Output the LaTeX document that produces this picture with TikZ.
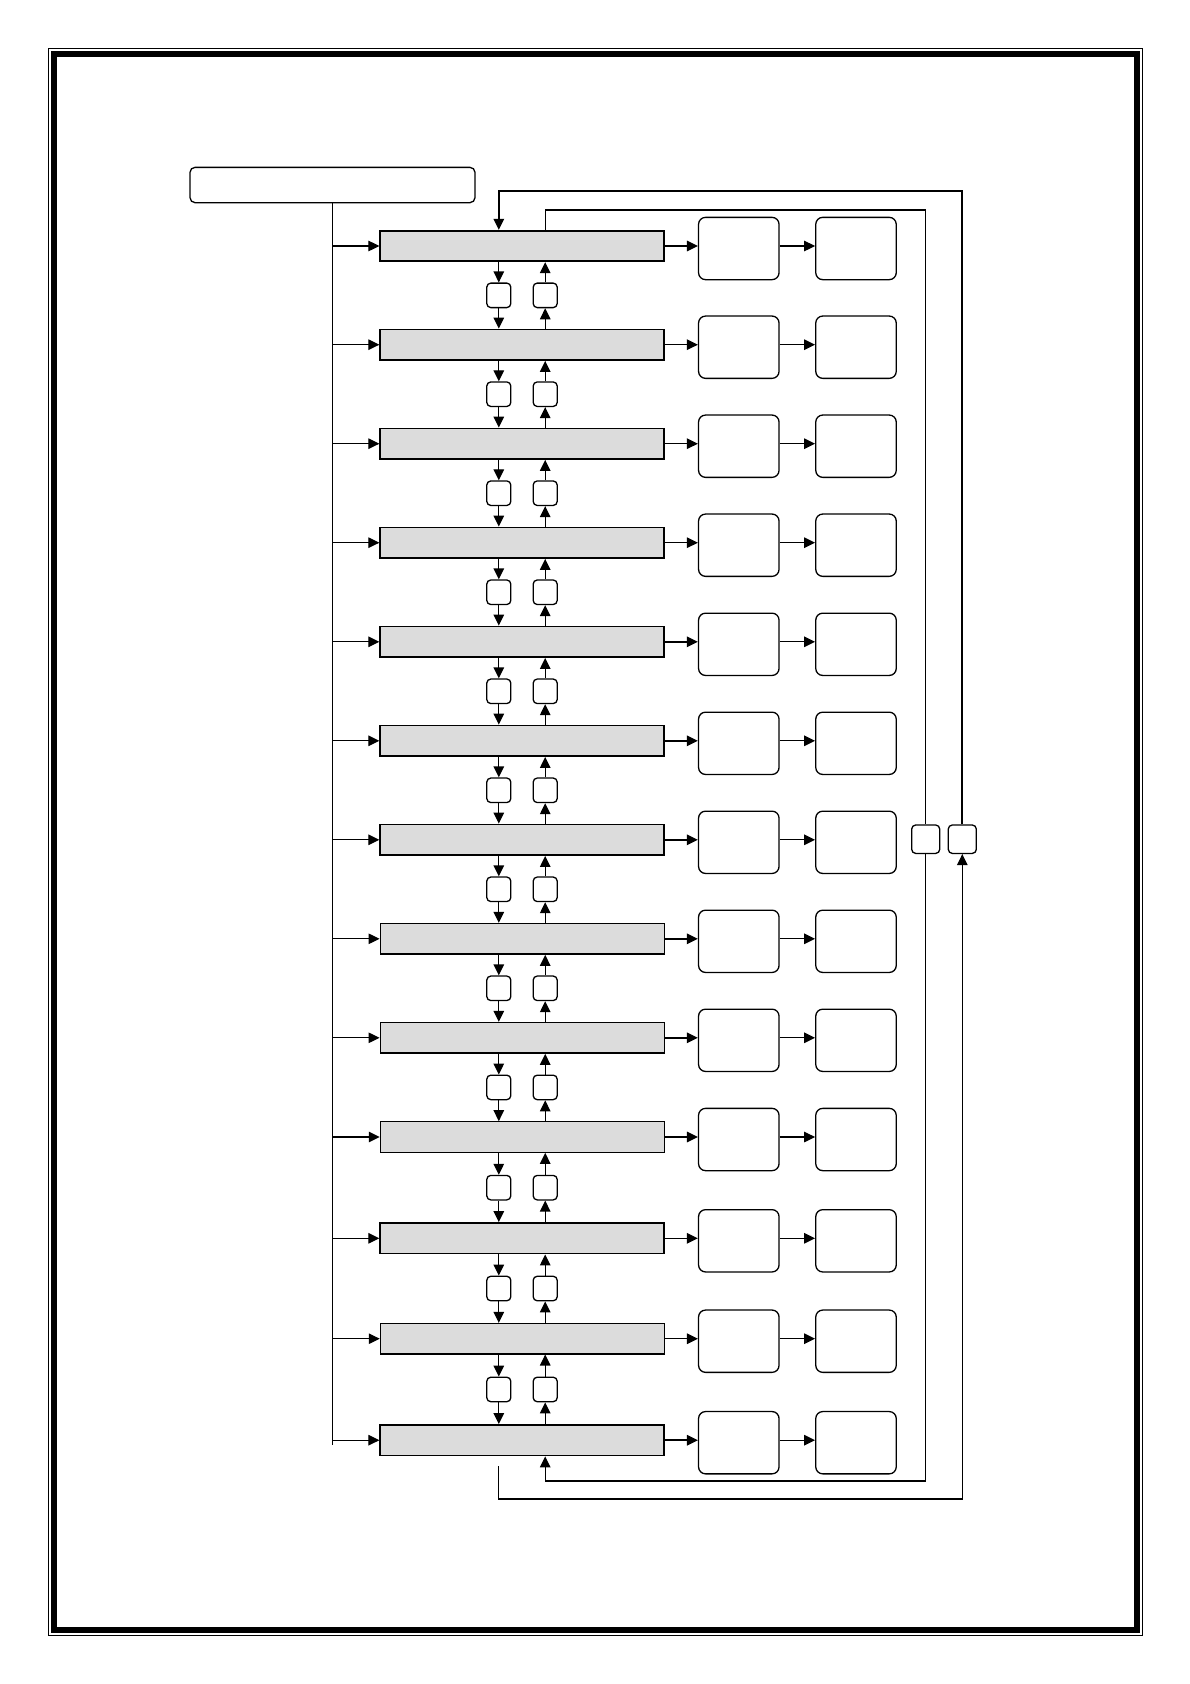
\documentclass[tikz,border=0pt]{standalone}
\usetikzlibrary{arrows.meta,calc}
\definecolor{boxgray}{RGB}{220,220,220}
\begin{document}
\begin{tikzpicture}[x=1pt,y=-1pt,
  arr/.style={-{Triangle[length=11pt,width=10.5pt]}, line width=1.3pt},
  mainbox/.style={draw, fill=boxgray, line width=1.8pt, minimum width=284pt, minimum height=30.5pt, inner sep=0pt},
  conbox/.style={draw, fill=white, rounded corners=4pt, line width=1.3pt, minimum width=24pt, minimum height=24.5pt, inner sep=0pt},
  outbox/.style={draw, rounded corners=7pt, line width=1.3pt, minimum width=80.5pt, minimum height=62.3pt, inner sep=0pt},
  topbox/.style={draw, rounded corners=5pt, line width=1.3pt, minimum width=285pt, minimum height=35.3pt, inner sep=0pt},
  loopbox/.style={conbox, minimum width=28pt, minimum height=28.4pt}
  ]
\useasboundingbox (0,0) rectangle (1190,1684);
% page frame
\draw[line width=1pt] (48.3,48.3) rectangle (1142.5,1635.5);
\draw[line width=6pt] (53.7,53.7) rectangle (1137.2,1630);

% top box and trunk
\node[topbox] (t) at (332.5,185) {};
\coordinate (trunk) at (332.5,1445);
\draw[line width=1.1pt] (t.south) -- (trunk);

% rows
\foreach \i/\y/\w in {1/246/1.8, 2/344.7/1.8, 3/443.7/1.8, 4/542.7/1.8, 5/641.8/1.8,
  6/740.8/1.8, 7/839.8/1.8, 8/938.8/1.5, 9/1037.8/1.5, 10/1137/1.1, 11/1238.3/1.8,
  12/1338.7/1.1, 13/1440.2/1.8}{
  \node[mainbox, line width=\w pt] (m\i) at (522.3,\y) {};
  \node[outbox] (a\i) at ({738.8},{\y+2.5}) {};
  \node[outbox] (b\i) at ({856},{\y+2.5}) {};
  \draw[arr, line width=1.1pt] (trunk |- m\i.west) -- (m\i.west);
  \draw[arr, line width=1.5pt] (m\i.east) -- (m\i.east -| a\i.west);
  \draw[arr, line width=1.3pt] (a\i.east |- m\i.east) -- (b\i.west |- m\i.east);
}

% connectors between rows
\foreach \i/\j/\y/\yn in {1/2/246/344.7, 2/3/344.7/443.7, 3/4/443.7/542.7, 4/5/542.7/641.8,
  5/6/641.8/740.8, 6/7/740.8/839.8, 7/8/839.8/938.8, 8/9/938.8/1037.8, 9/10/1037.8/1137,
  10/11/1137/1238.3, 11/12/1238.3/1338.7, 12/13/1338.7/1440.2}{
  \node[conbox] (d\i) at ({498.8},{(\y+\yn)/2}) {};
  \node[conbox] (u\i) at ({545.2},{(\y+\yn)/2}) {};
  \draw[arr] (d\i |- m\i.south) -- (d\i.north);
  \draw[arr] (d\i.south) -- (d\i |- m\j.north);
  \draw[arr] (u\i |- m\j.north) -- (u\i.south);
  \draw[arr] (u\i.north) -- (u\i |- m\i.south);
}

% loop boxes
\node[loopbox] (l1) at (925.7,839.2) {};
\node[loopbox] (l2) at (962.3,839.2) {};

\coordinate (ot) at (498.8,191);
\coordinate (ob) at (962.3,1499);
\coordinate (os) at (498.8,1466);
\coordinate (it) at (925.7,210);
\coordinate (ib) at (545.2,1481);

% outer loop
\draw[arr, line width=1.7pt] (l2.north) |- (ot) -- (m1.north -| ot);
\draw[arr, line width=1.3pt] (os) |- (ob) -- (l2.south);
% inner loop
\draw[line width=1.2pt] (m1.north -| u1) |- (it) -- (l1.north);
\draw[arr, line width=1.2pt] (l1.south) |- (ib) -- (m13.south -| ib);
\end{tikzpicture}
\end{document}
